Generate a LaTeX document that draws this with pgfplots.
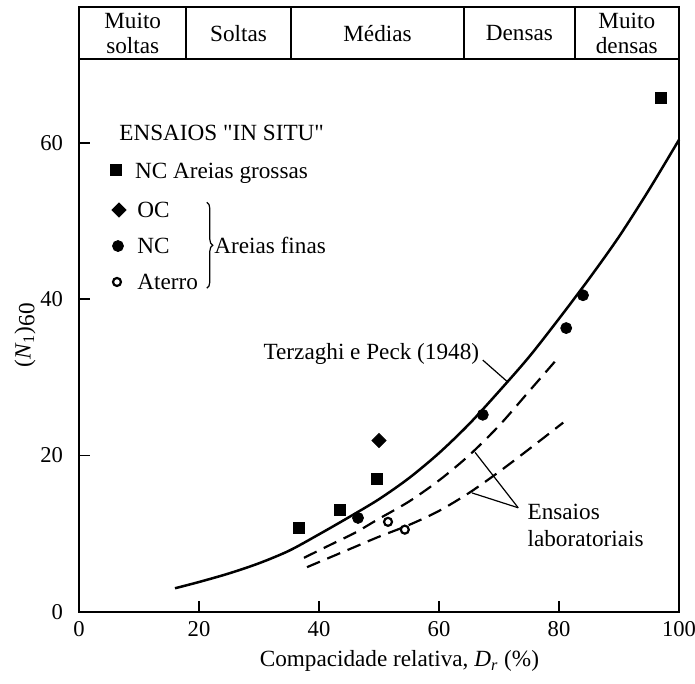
\documentclass[border=0pt]{standalone}
\usepackage{fontspec}
\setmainfont{Liberation Serif}
\usepackage{pgfplots}
\pgfplotsset{compat=1.18}
\usetikzlibrary{decorations.pathreplacing}

\begin{document}
\fontsize{11.6}{12.6}\selectfont
\begin{tikzpicture}
\begin{axis}[
  scale only axis, width=300pt, height=276.2pt,
  xmin=0, xmax=100, ymin=0, ymax=70.7,
  xtick={0,20,...,100}, ytick={0,20,40,60},
  tick align=inside, xtick pos=left, ytick pos=left,
  major tick length=5.5pt,
  axis line style={line width=1pt},
  tick style={line width=0.9pt, black},
  /pgf/number format/assume math mode=true,
  ticklabel style={font=\fontsize{11.3}{12}\selectfont},
  xticklabel style={yshift=-1pt},
  yticklabel style={xshift=-4pt},
  xlabel={Compacidade relativa, \textit{D}\textsubscript{\textit{r}} (\%)},
  xlabel style={at={(axis description cs:0.534,-0.090)}, anchor=center},
  ylabel={(\textit{N}\textsubscript{1})\raisebox{-0.35ex}{60}},
  ylabel style={at={(axis description cs:-0.09,0.5)}, anchor=center},
  clip=false,
]
% density classes band on top
\draw[line width=1pt] (axis cs:0,70.7) rectangle (axis cs:100,77.36);
\draw[line width=1pt] (axis cs:17.9,70.7) -- (axis cs:17.9,77.36);
\draw[line width=1pt] (axis cs:35.3,70.7) -- (axis cs:35.3,77.36);
\draw[line width=1pt] (axis cs:64.2,70.7) -- (axis cs:64.2,77.36);
\draw[line width=1pt] (axis cs:82.6,70.7) -- (axis cs:82.6,77.36);
\node[align=center] at (axis cs:8.95,74.03) {Muito\\soltas};
\node at (axis cs:26.6,74.03) {Soltas};
\node at (axis cs:49.75,74.03) {Médias};
\node at (axis cs:73.4,74.03) {Densas};
\node[align=center] at (axis cs:91.3,74.03) {Muito\\densas};

% Terzaghi e Peck (1948)
\addplot[black, line width=1.25pt, smooth] coordinates {
  (16,3.0)(20,3.8)(25,4.9)(30,6.2)(35,7.8)(40,9.9)(45,12.1)(50,14.4)(55,17.1)
  (60,20.3)(65,24.0)(70,28.2)(75,32.6)(80,37.5)(85,42.6)(90,48.0)(95,54.0)(100,60.4)
};
% ensaios laboratoriais
\addplot[black, line width=1.1pt, smooth, dash pattern=on 7pt off 4pt] coordinates {
  (37.5,6.9)(42,8.6)(46,10.1)(50,11.9)(55,14.1)(60,16.8)(65,20.0)(70,23.8)(75,28.2)(79.3,32.0)
};
\addplot[black, line width=1.1pt, smooth, dash pattern=on 7pt off 4pt] coordinates {
  (38,5.7)(42,7.0)(46,8.3)(50,9.6)(55,11.1)(60,12.9)(65,15.2)(70,17.9)(75,20.8)(80.7,24.2)
};

% in situ data
\addplot[only marks, mark=square*, mark size=2.75pt] coordinates {
  (36.7,10.7)(43.5,13.0)(49.6,17.0)(97,65.8)
};
\addplot[only marks, mark=square*, mark size=2.5pt, mark options={rotate=45}] coordinates {
  (50,21.9)
};
\addplot[only marks, mark=*, mark size=2.75pt] coordinates {
  (46.5,12.0)(67.3,25.2)(81.2,36.3)(84,40.5)
};
\addplot[only marks, mark=o, mark size=2pt, mark options={line width=1.1pt}] coordinates {
  (51.5,11.5)(54.3,10.5)
};

% key
\addplot[only marks, mark=square*, mark size=2.75pt] coordinates {(6.17,56.6)};
\addplot[only marks, mark=square*, mark size=2.5pt, mark options={rotate=45}] coordinates {(6.67,51.4)};
\addplot[only marks, mark=*, mark size=2.75pt] coordinates {(6.5,46.8)};
\addplot[only marks, mark=o, mark size=2pt, mark options={line width=1.1pt}] coordinates {(6.33,42.2)};
\node[anchor=base west, inner sep=0] at (axis cs:6.67,60.3) {ENSAIOS \textquotedbl IN SITU\textquotedbl};
\node[anchor=base west, inner sep=0] at (axis cs:9.3,55.5) {NC Areias grossas};
\node[anchor=base west, inner sep=0] at (axis cs:9.67,50.4) {OC};
\node[anchor=base west, inner sep=0] at (axis cs:9.67,45.8) {NC};
\node[anchor=base west, inner sep=0] at (axis cs:9.67,41.2) {Aterro};
\draw[line width=0.6pt, decorate, decoration={brace, amplitude=3pt}]
  (axis cs:21.3,52.4) -- (axis cs:21.3,41.4);
\node[anchor=base west, inner sep=0] at (axis cs:22.5,45.8) {Areias finas};

% annotations
\node[anchor=base west, inner sep=0] at (axis cs:30.7,32.25) {Terzaghi e Peck (1948)};
\draw[line width=0.6pt] (axis cs:67.3,32.2) -- (axis cs:71.3,29.5);
\draw[line width=0.6pt] (axis cs:73.2,13.3) -- (axis cs:66,20.4);
\draw[line width=0.6pt] (axis cs:73.2,13.3) -- (axis cs:65.5,15.2);
\node[anchor=base west, inner sep=0] at (axis cs:74.7,11.8) {Ensaios};
\node[anchor=base west, inner sep=0] at (axis cs:74.7,8.3) {laboratoriais};
\end{axis}
\pgfresetboundingbox
\path[use as bounding box] (-39.5pt,-36.15pt) rectangle (308pt,305.85pt);
\end{tikzpicture}
\end{document}
